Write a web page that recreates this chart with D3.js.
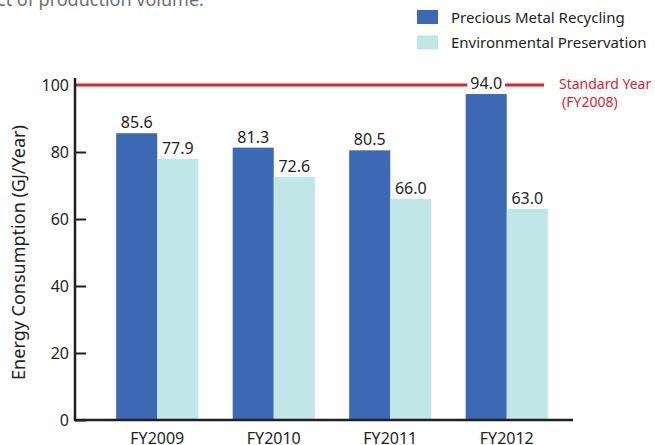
<!DOCTYPE html>
<html><head><meta charset="utf-8">
<script src="https://cdn.jsdelivr.net/npm/d3@7"></script>
<style>body{margin:0;background:#fff;} svg{display:block;font-family:"Noto Sans",sans-serif;}</style>
</head><body>
<svg id="chart" width="655" height="445"></svg>
<script>
const categories = ["FY2009", "FY2010", "FY2011", "FY2012"];
const seriesNames = ["Precious Metal Recycling", "Environmental Preservation"];
const preciousMetal = [85.6, 81.3, 80.5, 97.3];
const preciousLabels = ["85.6", "81.3", "80.5", "94.0"];
const environmental = [77.9, 72.6, 66.0, 63.0];
const environmentalLabels = ["77.9", "72.6", "66.0", "63.0"];
const yTicks = [0, 20, 40, 60, 80, 100];
const standardValue = 100;
const colors = ["#3d68b3", "#c0e6e8"];

const svg = d3.select("#chart");
const x0 = 75, x1 = 573, yTop = 85, yBot = 420;
const y = d3.scaleLinear().domain([0, 100]).range([yBot, yTop]);
const xb = d3.scaleBand().domain(categories).range([99, 565]).paddingInner(0.295).paddingOuter(0.1475);
const xs = d3.scaleBand().domain([0, 1]).range([0, xb.bandwidth()]);

// top cut-off text
svg.append("text").attr("x", -3).attr("y", 6).attr("font-size", 18).attr("fill", "#6d6e71")
  .text("ct of production volume.");

// legend
seriesNames.forEach((s, i) => {
  const ly = 10 + i * 25.5;
  svg.append("rect").attr("x", 417).attr("y", ly).attr("width", 21).attr("height", 14).attr("fill", colors[i]);
  svg.append("text").attr("x", 451).attr("y", ly + 12.5).attr("font-size", 15).attr("fill", "#231f20").text(s);
});

// bars
const data = categories.map((c, i) => ({c, v: [preciousMetal[i], environmental[i]], l: [preciousLabels[i], environmentalLabels[i]]}));
const g = svg.append("g");
data.forEach(d => {
  [0, 1].forEach(k => {
    g.append("rect").attr("x", xb(d.c) + xs(k)).attr("y", y(d.v[k]))
      .attr("width", xs.bandwidth()).attr("height", y(0) - y(d.v[k])).attr("fill", colors[k]);
  });
});

// standard line
svg.append("line").attr("x1", x0).attr("x2", 544).attr("y1", y(standardValue)).attr("y2", y(standardValue))
  .attr("stroke", "#e1222f").attr("stroke-width", 3);
svg.append("text").attr("x", 559).attr("y", 88.5).attr("font-size", 14).attr("fill", "#e1222f").text("Standard Year");
svg.append("text").attr("x", 562).attr("y", 107).attr("font-size", 14).attr("fill", "#e1222f").text("(FY2008)");

// value labels
data.forEach(d => {
  [0, 1].forEach(k => {
    const cx = xb(d.c) + xs(k) + xs.bandwidth() / 2;
    const t = svg.append("text").attr("x", cx).attr("y", y(d.v[k]) - 5).attr("text-anchor", "middle")
      .attr("font-size", 16).attr("fill", "#231f20").text(d.l[k]);
    if (y(d.v[k]) - 5 > y(standardValue) - 12 && y(d.v[k]) - 5 < y(standardValue) + 14) {
      const bb = t.node().getBBox();
      svg.insert("rect", "text:last-of-type").attr("x", bb.x - 3).attr("y", y(standardValue) - 3)
        .attr("width", bb.width + 6).attr("height", 6).attr("fill", "#fff");
      t.raise();
    }
  });
});

// axes
const yAxis = d3.axisLeft(y).tickValues(yTicks).tickSize(-11).tickPadding(18).tickFormat(d3.format("d"));
const ya = svg.append("g").attr("transform", `translate(${x0},0)`).call(yAxis);
ya.select(".domain").remove();
ya.selectAll(".tick line").attr("stroke", "#231f20").attr("stroke-width", 2);
ya.selectAll(".tick text").attr("font-size", 16).attr("fill", "#231f20").attr("font-family", "Noto Sans").attr("x", -6);
ya.selectAll(".tick").filter(d => d === 100).select("line").remove();
svg.append("line").attr("x1", x0).attr("x2", x0).attr("y1", 78).attr("y2", yBot + 1).attr("stroke", "#231f20").attr("stroke-width", 2.5);
svg.append("line").attr("x1", x0 - 1).attr("x2", x1).attr("y1", yBot).attr("y2", yBot).attr("stroke", "#231f20").attr("stroke-width", 2.5);

const xAxis = d3.axisBottom(xb).tickSize(0).tickPadding(0);
const xa = svg.append("g").attr("transform", `translate(0,${yBot})`).call(xAxis);
xa.select(".domain").remove();
xa.selectAll(".tick text").attr("font-size", 16).attr("fill", "#231f20").attr("font-family", "Noto Sans").attr("dy", 0).attr("y", 24);

// y label
svg.append("text").attr("transform", `translate(25,${(yTop + yBot) / 2}) rotate(-90)`).attr("text-anchor", "middle")
  .attr("font-size", 18).attr("fill", "#231f20").text("Energy Consumption (GJ/Year)");
</script>
</body></html>
